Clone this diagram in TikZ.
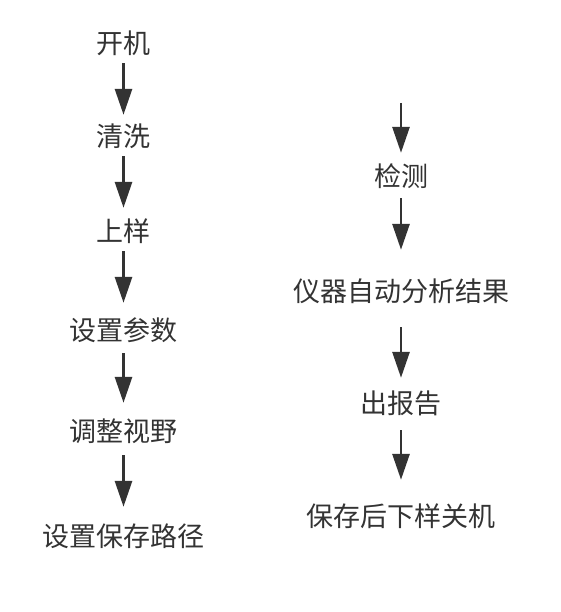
\documentclass[tikz,border=0pt]{standalone}
\usepackage{fontspec}
\usepackage{xcolor}
\usetikzlibrary{arrows.meta}
\newfontfamily\cjk{Noto Sans CJK SC}
\definecolor{inkgray}{HTML}{333333}
\tikzstyle{step box} = [inner sep=0pt, minimum height=36pt, text height=22pt, text depth=5pt, text=inkgray, font=\cjk\fontsize{27pt}{30pt}\selectfont]
\tikzstyle{arrow} = [line width=2.9pt, draw=inkgray, -{Triangle[width=17pt,length=26pt]}]

\begin{document}
\begin{tikzpicture}[x=1pt, y=-1pt]
        \useasboundingbox (0,0) rectangle (561,612);
        % left column
        \node (start) [step box] at (123.5,45) {开机};
        \node (wash) [step box] at (123.5,138) {清洗};
        \node (load) [step box] at (123.5,233) {上样};
        \node (param) [step box] at (123.5,332) {设置参数};
        \node (view) [step box] at (123.5,433) {调整视野};
        \node (path) [step box] at (123.5,538) {设置保存路径};
        % right column
        \coordinate (top) at (401,103);
        \node (detect) [step box] at (401,178) {检测};
        \node (result) [step box] at (401,293) {仪器自动分析结果};
        \node (report) [step box] at (401,405) {出报告};
        \node (save) [step box] at (401,518) {保存后下样关机};

        \draw [arrow, shorten >=5pt] (start) -- (wash);
        \draw [arrow, shorten >=7pt] (wash) -- (load);
        \draw [arrow, shorten >=11pt] (load) -- (param);
        \draw [arrow, shorten <=3pt, shorten >=12pt] (param) -- (view);
        \draw [arrow, shorten <=4pt, shorten >=13pt] (view) -- (path);
        \draw [arrow, shorten >=7pt] (top) -- (detect);
        \draw [arrow, shorten <=2pt, shorten >=25pt] (detect) -- (result);
        \draw [arrow, shorten <=16pt, shorten >=9pt] (result) -- (report);
        \draw [arrow, shorten <=7pt, shorten >=20pt] (report) -- (save);
    \end{tikzpicture}
\end{document}
